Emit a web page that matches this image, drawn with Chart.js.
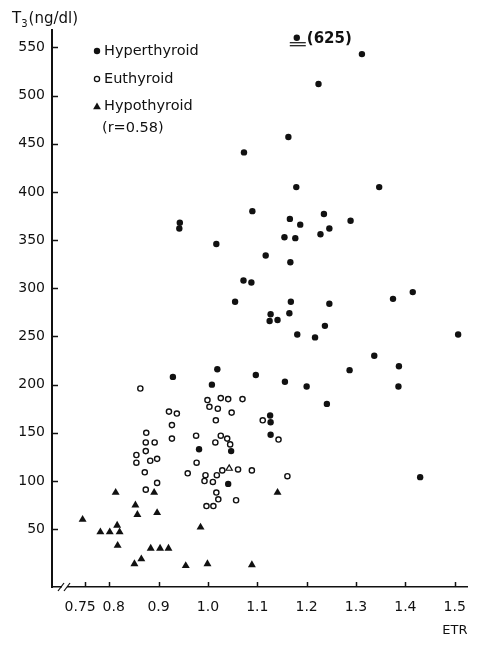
<!DOCTYPE html>
<html>
<head>
<meta charset="utf-8">
<script src="https://cdn.jsdelivr.net/npm/chart.js@4.4.1/dist/chart.umd.min.js"></script>
<style>
  html, body { margin: 0; padding: 0; background: #fff; }
  #wrap { width: 478px; height: 646px; position: relative; }
</style>
</head>
<body>
<div id="wrap"><canvas id="c"></canvas></div>
<script>
// ETR vs serum T3
const hyperETR = [1.312,1.224,1.163,1.073,1.179,1.347,0.942,0.943,1.017,1.055,1.090,1.166,1.187,1.235,1.289,1.246,1.155,1.177,1.228,1.117,1.167,1.072,1.088,1.168,1.246,1.375,1.415,1.127,1.165,1.125,1.141,1.237,1.181,1.217,1.507,1.337,1.387,1.097,1.156,1.200,1.287,1.386,1.241,1.126,1.127,1.127,1.047,1.430,1.041,1.019,0.929,1.008,0.982]
const hyperT3 = [543,512,457,441,405,405,362,368,346,286,380,372,366,377,370,362,353,352,356,334,327,308,306,286,284,289,296,273,274,266,267,261,252,249,252,230,219,210,203,198,215,198,180,168,161,148,131,104,97,216,208,200,133]

const euETR = [0.863,0.999,1.026,1.041,1.070,1.003,1.020,1.048,0.921,0.937,1.016,1.111,0.927,0.875,0.874,0.892,0.927,0.976,1.026,1.039,1.015,1.045,1.143,0.874,0.855,0.855,0.883,0.897,0.977,0.872,0.959,0.995,1.018,1.029,1.061,1.089,1.161,0.897,0.993,1.010,0.874,1.017,1.021,1.057,0.997,1.011]
const euT3 = [196,184,186,185,185,177,175,171,172,170,163,163,158,150,140,140,144,147,147,144,140,138,143,131,127,119,121,123,119,109,108,106,106,111,112,111,105,98,100,99,91,88,81,80,74,74]

const hypoETR = [0.813,0.891,0.853,0.857,0.897,0.746,0.816,0.782,0.801,0.821,0.817,0.985,0.884,0.903,0.920,0.865,0.851,0.955,0.999,1.089,1.141]
const hypoT3 = [88,88,75,65,67,60,54,47,47,47,33,52,30,30,30,19,14,12,14,13,88]

// one open triangle in the euthyroid cluster
const openTriETR = [1.043]
const openTriT3 = [113]

// off-scale point: true value 625, drawn at the top edge
const outlierETR = [1.18]
const outlierT3 = [625]
const outlierPlotT3 = [560]

const xTicks = [0.75, 0.8, 0.9, 1.0, 1.1, 1.2, 1.3, 1.4, 1.5]
// spaces nudge the two crowded labels apart, as printed
const xTickLabels = ["0.75  ", "  0.8", "0.9", "1.0", "1.1", "1.2", "1.3", "1.4", "1.5"]
const yTicks = [50, 100, 150, 200, 250, 300, 350, 400, 450, 500, 550]

const labels = ["Hyperthyroid", "Euthyroid", "Hypothyroid"]
const corrText = "(r=0.58)"
const yTitle = ["T", "3", "(ng/dl)"]

const INK = "#111"
const FONT = "'DejaVu Sans', sans-serif"

const pts = (xs, ys) => xs.map((x, i) => ({ x, y: ys[i] }))

function marker(ctx, style, x, y, r, filled) {
  ctx.beginPath()
  if (style === "triangle") {
    ctx.moveTo(x, y - r)
    ctx.lineTo(x + r * 0.866, y + r * 0.5)
    ctx.lineTo(x - r * 0.866, y + r * 0.5)
    ctx.closePath()
  } else {
    ctx.arc(x, y, r, 0, Math.PI * 2)
  }
  if (filled) { ctx.fillStyle = INK; ctx.fill() }
  else { ctx.fillStyle = "#fff"; ctx.fill(); ctx.lineWidth = 1.3; ctx.strokeStyle = INK; ctx.stroke() }
}

const decor = {
  id: "decor",
  afterDraw(chart) {
    const { ctx, scales: { x, y } } = chart
    ctx.save()
    ctx.strokeStyle = INK
    ctx.lineWidth = 1.5

    // inward tick marks
    yTicks.forEach(v => {
      const py = Math.round(y.getPixelForValue(v)) + 0.5
      ctx.beginPath(); ctx.moveTo(x.left, py); ctx.lineTo(x.left + 6, py); ctx.stroke()
    })
    xTicks.forEach(v => {
      const px = Math.round(x.getPixelForValue(v)) + 0.5
      ctx.beginPath(); ctx.moveTo(px, y.bottom); ctx.lineTo(px, y.bottom - 5); ctx.stroke()
    })

    // axis break on the x axis
    const bx = x.left + 12
    ctx.fillStyle = "#fff"
    ctx.fillRect(bx - 2, y.bottom - 2, 5, 4)
    ctx.lineWidth = 1.2
    ;[-3, 3].forEach(d => {
      ctx.beginPath()
      ctx.moveTo(bx + d - 3, y.bottom + 4)
      ctx.lineTo(bx + d + 3, y.bottom - 4)
      ctx.stroke()
    })

    // y title with subscript
    ctx.fillStyle = INK
    ctx.textBaseline = "alphabetic"
    ctx.font = "15px " + FONT
    ctx.fillText(yTitle[0], 12, 23)
    let tx = 12 + ctx.measureText(yTitle[0]).width
    ctx.font = "10px " + FONT
    ctx.fillText(yTitle[1], tx, 27)
    tx += ctx.measureText(yTitle[1]).width + 1
    ctx.font = "15px " + FONT
    ctx.fillText(yTitle[2], tx, 23)

    // legend inside the plot
    const styles = [["circle", 3.2, true], ["circle", 2.6, false], ["triangle", 4.5, true]]
    const rows = [51, 79, 106]
    ctx.textBaseline = "middle"
    ctx.font = "14.5px " + FONT
    labels.forEach((t, i) => {
      const [st, r, f] = styles[i]
      marker(ctx, st, 97, rows[i] + (st === "triangle" ? 1 : 0), r, f)
      ctx.fillStyle = INK
      ctx.fillText(t, 104, rows[i])
    })
    ctx.fillText(corrText, 102, 128)

    // off-scale note
    const ox = x.getPixelForValue(outlierETR[0])
    const oy = y.getPixelForValue(outlierPlotT3[0])
    ctx.lineWidth = 1.2
    ;[5, 8].forEach(d => {
      ctx.beginPath(); ctx.moveTo(ox - 7, oy + d); ctx.lineTo(ox + 9, oy + d); ctx.stroke()
    })
    ctx.font = "bold 15px " + FONT
    ctx.textBaseline = "middle"
    ctx.fillText("(" + outlierT3[0] + ")", ox + 10, oy + 1)
    ctx.restore()
  }
}

new Chart(document.getElementById("c"), {
  type: "scatter",
  data: {
    datasets: [
      { label: labels[0], data: pts(hyperETR, hyperT3), pointStyle: "circle", pointRadius: 3.2,
        backgroundColor: INK, borderColor: INK, borderWidth: 0 },
      { label: labels[1], data: pts(euETR, euT3), pointStyle: "circle", pointRadius: 2.6,
        backgroundColor: "#fff", borderColor: INK, borderWidth: 1.4 },
      { label: labels[2], data: pts(hypoETR, hypoT3), pointStyle: "triangle", pointRadius: 4.6,
        backgroundColor: INK, borderColor: INK, borderWidth: 0 },
      { label: "open", data: pts(openTriETR, openTriT3), pointStyle: "triangle", pointRadius: 3.6,
        backgroundColor: "#fff", borderColor: INK, borderWidth: 1.2 },
      { label: "off-scale", data: pts(outlierETR, outlierPlotT3), pointStyle: "circle", pointRadius: 3.2,
        backgroundColor: INK, borderColor: INK, borderWidth: 0 },
    ],
  },
  options: {
    responsive: true,
    maintainAspectRatio: false,
    animation: false,
    layout: { padding: { top: 30, right: 5, left: 0, bottom: 0 } },
    plugins: { legend: { display: false }, tooltip: { enabled: false } },
    scales: {
      x: {
        type: "linear",
        min: 0.684,
        max: 1.526,
        afterBuildTicks: (s) => { s.ticks = xTicks.map(v => ({ value: v })) },
        afterFit: (s) => { s.height = 59 },
        grid: { display: false, drawTicks: false },
        border: { color: INK, width: 1.5 },
        ticks: {
          color: INK,
          font: { family: FONT, size: 14 },
          padding: 12,
          maxRotation: 0,
          autoSkip: false,
          callback: (v) => xTickLabels[xTicks.indexOf(v)] ?? "",
        },
        title: {
          display: true,
          text: "ETR",
          align: "end",
          color: INK,
          font: { family: FONT, size: 13 },
          padding: { top: 4, bottom: 8 },
        },
      },
      y: {
        min: -10,
        max: 568,
        afterBuildTicks: (s) => { s.ticks = yTicks.map(v => ({ value: v })) },
        afterFit: (s) => { s.width = 52 },
        grid: { display: false, drawTicks: false },
        border: { color: INK, width: 2 },
        ticks: {
          color: INK,
          font: { family: FONT, size: 14 },
          padding: 7,
          autoSkip: false,
        },
      },
    },
  },
  plugins: [decor],
})
</script>
</body>
</html>
